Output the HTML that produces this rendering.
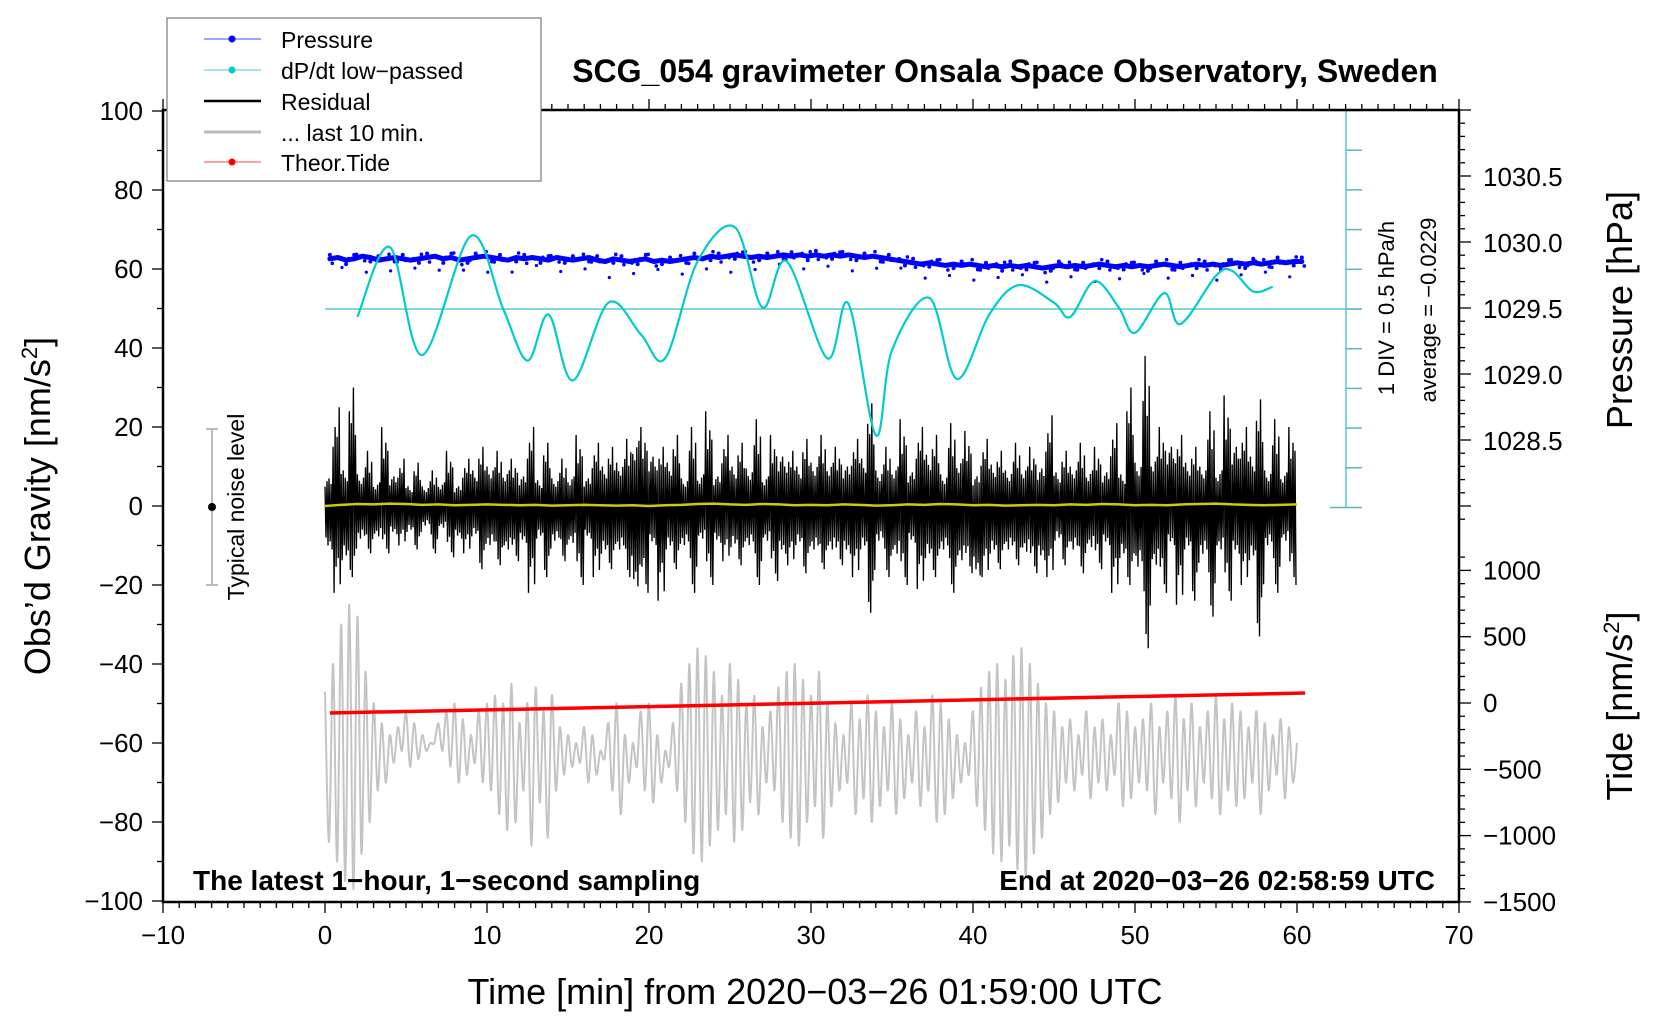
<!DOCTYPE html>
<html><head><meta charset="utf-8"><style>
html,body{margin:0;padding:0;background:#fff;}
svg{display:block;font-family:"Liberation Sans",Arial,sans-serif;}
</style></head><body>
<svg id="chart" width="1660" height="1020" viewBox="0 0 1660 1020" xmlns="http://www.w3.org/2000/svg">
<rect x="0" y="0" width="1660" height="1020" fill="#fff"/>
<g id="data-layer"></g>
<g id="axes-layer"></g>
<text x="1005" y="82" text-anchor="middle" font-size="32" font-weight="bold">SCG_054 gravimeter Onsala Space Observatory, Sweden</text>
<text x="815" y="1004" text-anchor="middle" font-size="36">Time [min] from 2020−03−26 01:59:00 UTC</text>
<text transform="translate(50,506) rotate(-90)" text-anchor="middle" font-size="36">Obs’d Gravity [nm/s<tspan font-size="22" dy="-13">2</tspan><tspan dy="13">]</tspan></text>
<text transform="translate(1632,310) rotate(-90)" text-anchor="middle" font-size="36">Pressure [hPa]</text>
<text transform="translate(1632,706) rotate(-90)" text-anchor="middle" font-size="36">Tide [nm/s<tspan font-size="22" dy="-13">2</tspan><tspan dy="13">]</tspan></text>
<text transform="translate(1394,308) rotate(-90)" text-anchor="middle" font-size="22">1 DIV = 0.5 hPa/h</text>
<text transform="translate(1436,310) rotate(-90)" text-anchor="middle" font-size="22">average = −0.0229</text>
<text x="193" y="890" font-size="28" font-weight="bold">The latest 1−hour, 1−second sampling</text>
<text x="1435" y="890" text-anchor="end" font-size="28" font-weight="bold">End at 2020−03−26 02:58:59 UTC</text>
<g>
<line x1="212" y1="429" x2="212" y2="585" stroke="#bbb" stroke-width="2"/>
<line x1="206" y1="429" x2="218" y2="429" stroke="#bbb" stroke-width="2"/>
<line x1="206" y1="585" x2="218" y2="585" stroke="#bbb" stroke-width="2"/>
<circle cx="212" cy="507" r="4" fill="#000"/>
<text transform="translate(244,507) rotate(-90)" text-anchor="middle" font-size="23">Typical noise level</text>
</g>
<g>
<rect x="167" y="18" width="374" height="163" fill="#fff" stroke="#777" stroke-width="1.2"/>
<g><line x1="204" y1="39" x2="261" y2="39" stroke="#44f" stroke-width="1"/><circle cx="232" cy="39" r="3.5" fill="#00f"/><text x="281" y="48" font-size="23">Pressure</text></g>
<g><line x1="204" y1="70" x2="261" y2="70" stroke="#4cc" stroke-width="1"/><circle cx="232" cy="70" r="3.5" fill="#0cc"/><text x="281" y="79" font-size="23">dP/dt low−passed</text></g>
<g><line x1="204" y1="101" x2="261" y2="101" stroke="#000" stroke-width="2.5"/><text x="281" y="110" font-size="23">Residual</text></g>
<g><line x1="204" y1="132" x2="261" y2="132" stroke="#bbb" stroke-width="3"/><text x="281" y="141" font-size="23">... last 10 min.</text></g>
<g><line x1="204" y1="162" x2="261" y2="162" stroke="#f44" stroke-width="1"/><circle cx="232" cy="162" r="3.5" fill="#f00"/><text x="281" y="171" font-size="23">Theor.Tide</text></g>
</g>
</svg>
<script>
const residHi=[14,25,18,30,16,14,12,20,15,12,10, 11,10,9,12,14,10,12,18,15,20, 14,18,12,15,20,13,16,14,12,15, 18,14,16,20,15,22,17,33,20,25, 15,22,18,14,20,16,24,15,18,20, 16,19,22,15,18,25,14,20,17,22, 18,22,15,20,17,24,26,18,15,20, 22,17,20,26,18,16,21,24,19,15, 17,21,14,18,16,20,15,19,23,17, 14,20,16,18,15,17,21,16,30,22, 38,25,20,30,18,22,15,20,24,18, 28,30,20,25,27,18,22,17,20,18];
const residLo=[-20,-22,-25,-18,-15,-12,-14,-12,-13,-10,-12, -11,-9,-12,-10,-13,-15,-12,-14,-16,-18, -15,-20,-14,-17,-22,-15,-18,-16,-14,-17, -20,-15,-18,-22,-16,-20,-18,-37,-22,-18, -24,-20,-16,-18,-22,-15,-20,-17,-14,-19, -15,-18,-20,-16,-19,-22,-15,-18,-17,-20, -16,-20,-15,-22,-18,-20,-27,-16,-18,-22, -20,-17,-21,-24,-18,-20,-22,-25,-17,-32, -18,-22,-16,-20,-15,-21,-17,-25,-18,-16, -15,-20,-17,-19,-16,-18,-22,-24,-20,-28, -36,-27,-22,-18,-25,-20,-24,-22,-28,-20, -24,-22,-20,-25,-33,-18,-22,-16,-20,-18];
const grayHi=[-47,-40,-30,-25,-28,-42,-50,-55,-58,-56,-52, -55,-58,-60,-55,-52,-50,-54,-58,-52,-50, -48,-50,-45,-55,-50,-46,-52,-48,-56,-58, -60,-56,-58,-62,-55,-50,-58,-60,-52,-50, -58,-62,-55,-45,-40,-36,-38,-42,-48,-40, -44,-50,-48,-56,-52,-46,-42,-40,-44,-48, -42,-50,-55,-58,-50,-54,-48,-52,-56,-50, -54,-58,-52,-56,-48,-50,-54,-58,-60,-52, -46,-42,-40,-44,-38,-36,-40,-45,-50,-52, -56,-54,-58,-52,-56,-54,-58,-50,-52,-56, -54,-50,-56,-52,-48,-54,-50,-56,-52,-48, -54,-50,-52,-56,-52,-55,-58,-54,-56,-60];
const grayLo=[-85,-90,-95,-97,-88,-80,-72,-70,-65,-62,-66, -64,-62,-60,-62,-66,-70,-68,-65,-70,-72, -78,-82,-80,-72,-86,-75,-84,-72,-68,-66, -65,-70,-68,-64,-72,-78,-70,-66,-72,-75, -70,-66,-72,-80,-88,-90,-86,-82,-78,-85, -82,-75,-78,-70,-72,-80,-84,-86,-80,-76, -84,-76,-72,-70,-78,-74,-80,-76,-72,-78, -74,-70,-76,-72,-80,-78,-74,-70,-68,-76, -82,-88,-90,-86,-92,-94,-88,-84,-78,-75, -70,-72,-68,-74,-70,-72,-68,-76,-74,-70, -72,-78,-70,-74,-80,-72,-76,-70,-74,-78, -72,-76,-74,-70,-78,-72,-68,-74,-70,-62];
const pressure=[1029.88,1029.89,1029.87,1029.88,1029.90,1029.89,1029.87,1029.88,1029.89,1029.88,1029.87, 1029.88,1029.89,1029.90,1029.88,1029.89,1029.87,1029.88,1029.89,1029.90,1029.89, 1029.88,1029.87,1029.89,1029.88,1029.89,1029.88,1029.87,1029.89,1029.88,1029.87, 1029.88,1029.89,1029.87,1029.86,1029.88,1029.87,1029.86,1029.87,1029.88,1029.86, 1029.87,1029.86,1029.87,1029.88,1029.89,1029.88,1029.90,1029.89,1029.90,1029.91, 1029.90,1029.89,1029.90,1029.89,1029.90,1029.91,1029.90,1029.91,1029.90,1029.91, 1029.90,1029.91,1029.90,1029.91,1029.90,1029.89,1029.90,1029.89,1029.88,1029.87, 1029.86,1029.85,1029.84,1029.85,1029.84,1029.83,1029.84,1029.83,1029.84,1029.83, 1029.82,1029.83,1029.82,1029.83,1029.82,1029.83,1029.82,1029.81,1029.82,1029.83, 1029.82,1029.83,1029.82,1029.83,1029.84,1029.83,1029.82,1029.83,1029.82,1029.83, 1029.82,1029.83,1029.84,1029.83,1029.82,1029.83,1029.84,1029.83,1029.84,1029.83, 1029.84,1029.85,1029.84,1029.85,1029.84,1029.85,1029.86,1029.85,1029.86,1029.86];
const dpTime=[2,4,6,9,11,12.5,13.8,15.3,17.5,19.5,21,23,25.3,27,28.5,31,32.3,34,35,37.3,39,41,42.8,45,46,47.5,49,50,51.8,52.8,55,56,57.3,58.5];
const dpVal=[-0.10,0.78,-0.58,0.92,0,-0.65,-0.07,-0.90,0.08,-0.32,-0.62,0.60,1.03,0.02,0.60,-0.62,0.07,-1.59,-0.52,0.14,-0.88,-0.07,0.30,0.08,-0.10,0.35,0.02,-0.30,0.20,-0.19,0.42,0.48,0.22,0.28];
const yellow=[0,0.3,0.5,0.4,0.6,0.5,0.3,0.4,0.2,0.3,0.4,0.3,0.2,0.3,0.1,0.2,0.3,0.2,0.1,0.2,0.0,0.2,0.3,0.5,0.6,0.4,0.3,0.5,0.4,0.2,0.3,0.2,0.4,0.3,0.1,0.2,0.4,0.3,0.5,0.4,0.2,0.3,0.1,0.2,0.3,0.2,0.4,0.3,0.5,0.4,0.2,0.3,0.2,0.4,0.5,0.6,0.4,0.3,0.2,0.3,0.4];
const tideTime=[0.3,10,20,30,40,50,60.5];
const tideVal=[-75,-52,-27,-2,24,49,75];
const xTicks=[-10,0,10,20,30,40,50,60,70];
const yTicks=[-100,-80,-60,-40,-20,0,20,40,60,80,100];
const pTicks=[1028.5,1029.0,1029.5,1030.0,1030.5];
const tTicks=[-1500,-1000,-500,0,500,1000];

const L=163,R=1459,T=110,B=902;
const X=v=>L+(v+10)*16.2;
const G=v=>111+(100-v)*3.95;
const P=v=>243+(1030-v)*132;
const TD=v=>703-v*66.3/500;
const D=v=>309-v/0.5*39.7;
const NS='http://www.w3.org/2000/svg';
const dl=document.getElementById('data-layer'), al=document.getElementById('axes-layer');
function mk(tag,attrs,parent){const e=document.createElementNS(NS,tag);for(const k in attrs)e.setAttribute(k,attrs[k]);parent.appendChild(e);return e;}
function smooth(pts){let d='M'+pts[0][0]+','+pts[0][1];for(let i=0;i<pts.length-1;i++){const p0=pts[Math.max(0,i-1)],p1=pts[i],p2=pts[i+1],p3=pts[Math.min(pts.length-1,i+2)];d+=' C'+(p1[0]+(p2[0]-p0[0])/6)+','+(p1[1]+(p2[1]-p0[1])/6)+' '+(p2[0]-(p3[0]-p1[0])/6)+','+(p2[1]-(p3[1]-p1[1])/6)+' '+p2[0]+','+p2[1];}return d;}

// gray
let gp=[];grayHi.forEach((h,i)=>{gp.push([X(i*0.5),G(h)]);gp.push([X(i*0.5+0.25),G(grayLo[i])]);});
gp=gp.filter(p=>p[0]<=X(60.05));
const gray=mk('path',{d:smooth(gp),fill:'none',stroke:'#c4c4c4','stroke-width':2},dl);



// residual
const resG=mk('g',{},dl);


const fr1=[0.35,0.6,0.45,0.8,0.5,0.7,0.4,1.0];
const fr2=[0.6,0.4,0.9,0.5,1.0,0.45,0.7,0.55];
let rp='';
residHi.forEach((h,i)=>{if(i*0.5>59.9)return;for(let k=0;k<8;k++){const t=i*0.5+k*0.0625;const hv=(k%2===0)?h*fr1[(k+i)%8]:residLo[i]*fr2[(k+i*3)%8];rp+=(rp?' L':'M')+X(t).toFixed(1)+','+G(hv).toFixed(1);}});
mk('path',{d:rp,fill:'none',stroke:'#000','stroke-width':1.35},resG);

// yellow
const yp=yellow.map((v,i)=>(i?'L':'M')+X(i)+','+G(v)).join(' ');
const yl=mk('path',{d:yp,fill:'none',stroke:'#cc0','stroke-width':2.5},dl);



// tide
const tg=mk('g',{},dl);


mk('path',{d:tideTime.map((t,i)=>(i?'L':'M')+X(t)+','+TD(tideVal[i])).join(' '),fill:'none',stroke:'#f00','stroke-width':3.5},tg);

// pressure
const pg=mk('g',{},dl);


mk('path',{d:pressure.map((p,i)=>(i?'L':'M')+X(0.3+i*0.5)+','+P(p)).join(' '),fill:'none',stroke:'#00f','stroke-width':5,'stroke-linejoin':'round','stroke-linecap':'round'},pg);
pressure.forEach((p,i)=>{mk('circle',{cx:X(0.3+i*0.5),cy:P(p)+((i%3)-1)*4,r:2,fill:'#00f'},pg);mk('circle',{cx:X(0.45+i*0.5),cy:P(p)-((i%4)-1.5)*3,r:1.8,fill:'#00f'},pg);if(i%3===1)mk('circle',{cx:X(0.55+i*0.5),cy:P(p)+8+(i%5)*2,r:1.6,fill:'#00f'},pg);});

// dP/dt
const cg=mk('g',{},dl);


mk('line',{x1:X(0),y1:D(0),x2:1362,y2:D(0),stroke:'#5cc','stroke-width':1.5},cg);
mk('line',{x1:1346,y1:T,x2:1346,y2:D(-2.5),stroke:'#5cc','stroke-width':1.5},cg);
for(let k=-5;k<=5;k++){const w=(k===5||k===-5)?16:0;mk('line',{x1:1346-w,y1:D(k*0.5),x2:1362,y2:D(k*0.5),stroke:'#5bb','stroke-width':1.5},cg);}
const dp=mk('path',{d:smooth(dpTime.map((t,i)=>[X(t),D(dpVal[i])])),fill:'none',stroke:'#0cc','stroke-width':2.2},dl);



// frame
const fr=mk('rect',{x:L,y:T,width:R-L,height:B-T,fill:'none',stroke:'#000','stroke-width':2.5},al);


for(let v=-10;v<=70;v++){const x=X(v);const maj=v%10===0;mk('line',{x1:x,y1:B,x2:x,y2:B+(maj?11:6),stroke:'#000','stroke-width':1.3},al);mk('line',{x1:x,y1:T,x2:x,y2:T-(maj?11:6),stroke:'#000','stroke-width':1.3},al);}
xTicks.forEach(v=>{const t=mk('text',{x:X(v),y:B+42,'text-anchor':'middle','font-size':26},al);t.textContent=v<0?'−'+(-v):v;

});
for(let v=-100;v<=100;v+=10){const maj=v%20===0;mk('line',{x1:L,y1:G(v),x2:L-(maj?11:6),y2:G(v),stroke:'#000','stroke-width':1.3},al);}
yTicks.forEach(v=>{const t=mk('text',{x:L-20,y:G(v)+9,'text-anchor':'end','font-size':26},al);t.textContent=v<0?'−'+(-v):v;

});
for(let k=0;k<=31;k++){const y=T+k*13.2;if(y>520)break;const pv=Math.round((1030.5-(y-177)/132)*10);const maj=pv%5===0;mk('line',{x1:R,y1:y,x2:R+(maj?12:6),y2:y,stroke:'#000','stroke-width':1.3},al);}
pTicks.forEach(v=>{const t=mk('text',{x:R+24,y:P(v)+9,'font-size':26},al);t.textContent=v.toFixed(1);

});
for(let v=-1500;v<=1100;v+=100){const maj=v%500===0;mk('line',{x1:R,y1:TD(v),x2:R+(maj?12:6),y2:TD(v),stroke:'#000','stroke-width':1.3},al);}
tTicks.forEach(v=>{const t=mk('text',{x:R+24,y:TD(v)+9,'font-size':26},al);t.textContent=v<0?'−'+(-v):v;

});
</script>
</body></html>
